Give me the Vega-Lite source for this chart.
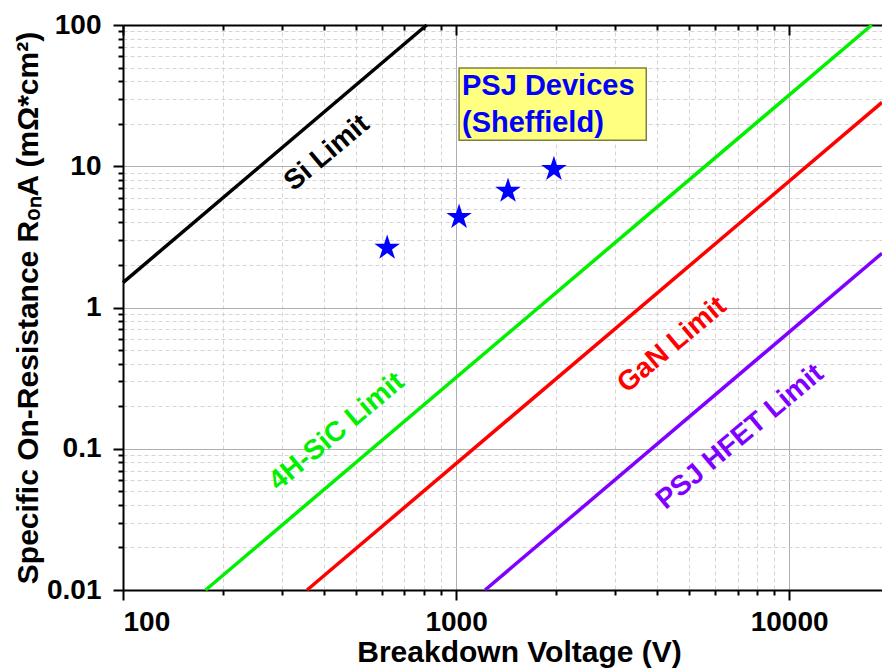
{
  "$schema": "https://vega.github.io/schema/vega-lite/v6.json",
  "width": 759,
  "height": 565,
  "autosize": "none",
  "padding": {"left": 123, "top": 25, "right": 0, "bottom": 81},
  "background": "white",
  "config": {
    "view": {"stroke": null},
    "axis": {
      "domainColor": "black",
      "domainWidth": 2,
      "tickColor": "black",
      "tickWidth": 2,
      "labelFont": "Liberation Sans",
      "labelFontWeight": "bold",
      "labelFontSize": 28,
      "labelColor": "black",
      "titleFont": "Liberation Sans",
      "titleFontWeight": "bold",
      "titleFontSize": 30,
      "titleColor": "black"
    }
  },
  "datasets": {
    "lineData": [
      {"series": "Si", "v": 100, "r": 1.5},
      {"series": "Si", "v": 816, "r": 100},
      {"series": "4H-SiC", "v": 177, "r": 0.01},
      {"series": "4H-SiC", "v": 17700, "r": 100},
      {"series": "GaN", "v": 357, "r": 0.01},
      {"series": "GaN", "v": 19000, "r": 28.3},
      {"series": "PSJ HFET", "v": 1222, "r": 0.01},
      {"series": "PSJ HFET", "v": 19000, "r": 2.42}
    ],
    "deviceData": [
      {"v": 621, "r": 2.64},
      {"v": 1021, "r": 4.37},
      {"v": 1432, "r": 6.68},
      {"v": 1967, "r": 9.55}
    ],
    "boxData": [
      {"v1": 1021, "v2": 3724, "r1": 15.3, "r2": 49.6}
    ],
    "boxTextData": [
      {"v": 1042, "r": 31.9, "label": "PSJ Devices"},
      {"v": 1042, "r": 17.5, "label": "(Sheffield)"}
    ],
    "labelData": [
      {"series": "Si", "v": 410, "r": 12.4, "label": "Si Limit"},
      {"series": "4H-SiC", "v": 439, "r": 0.1315, "label": "4H-SiC Limit"},
      {"series": "GaN", "v": 4454, "r": 0.5425, "label": "GaN Limit"},
      {"series": "PSJ HFET", "v": 7130, "r": 0.121, "label": "PSJ HFET Limit"}
    ]
  },
  "resolve": {"axis": {"x": "independent"}},
  "layer": [
    {
      "data": {"name": "lineData"},
      "mark": {"type": "line", "strokeWidth": 3.5},
      "encoding": {
        "x": {
          "field": "v", "type": "quantitative",
          "scale": {"type": "log", "domain": [100, 19000], "nice": false},
          "axis": {
            "orient": "bottom",
            "values": [100, 200, 300, 400, 500, 600, 700, 800, 900, 1000, 2000, 3000, 4000, 5000, 6000, 7000, 8000, 9000, 10000],
            "labelExpr": "abs(log(datum.value)/LN10 - round(log(datum.value)/LN10)) < 0.001 ? datum.label : ''",
            "format": "~g",
            "grid": true,
            "gridColor": {"condition": {"test": "abs(log(datum.value)/LN10 - round(log(datum.value)/LN10)) < 0.001", "value": "#b0b0b0"}, "value": "#d4d4d4"},
            "gridDash": {"condition": {"test": "abs(log(datum.value)/LN10 - round(log(datum.value)/LN10)) < 0.001", "value": []}, "value": [4, 3]},
            "gridWidth": 1,
            "tickSize": {"condition": {"test": "abs(log(datum.value)/LN10 - round(log(datum.value)/LN10)) < 0.001", "value": 10}, "value": 5},
            "labelPadding": 8,
            "title": "Breakdown Voltage (V)", "titlePadding": 1, "titleX": 396
          }
        },
        "y": {
          "field": "r", "type": "quantitative",
          "scale": {"type": "log", "domain": [0.01, 100], "nice": false},
          "axis": {
            "orient": "left",
            "values": [0.01, 0.02, 0.03, 0.04, 0.05, 0.06, 0.07, 0.08, 0.09, 0.1, 0.2, 0.3, 0.4, 0.5, 0.6, 0.7, 0.8, 0.9, 1, 2, 3, 4, 5, 6, 7, 8, 9, 10, 20, 30, 40, 50, 60, 70, 80, 90, 100],
            "labelExpr": "abs(log(datum.value)/LN10 - round(log(datum.value)/LN10)) < 0.001 ? datum.label : ''",
            "format": "~g",
            "grid": true,
            "gridColor": {"condition": {"test": "abs(log(datum.value)/LN10 - round(log(datum.value)/LN10)) < 0.001", "value": "#b0b0b0"}, "value": "#d4d4d4"},
            "gridDash": {"condition": {"test": "abs(log(datum.value)/LN10 - round(log(datum.value)/LN10)) < 0.001", "value": []}, "value": [4, 3]},
            "gridWidth": 1,
            "tickSize": {"condition": {"test": "abs(log(datum.value)/LN10 - round(log(datum.value)/LN10)) < 0.001", "value": 10}, "value": 5},
            "labelPadding": 12,
            "title": "Specific On-Resistance RₒₙA (mΩ*cm²)", "titlePadding": 3
          }
        },
        "color": {
          "field": "series", "type": "nominal",
          "scale": {"domain": ["Si", "4H-SiC", "GaN", "PSJ HFET"], "range": ["#000000", "#00f000", "#ff0000", "#8000ff"]},
          "legend": null
        }
      }
    },
    {
      "data": {"name": "boxData"},
      "mark": {"type": "rect", "fill": "#ffff80", "stroke": "#7f7f40", "strokeWidth": 1.5},
      "encoding": {
        "x": {
          "field": "v1", "type": "quantitative",
          "axis": {
            "orient": "top",
            "values": [100, 200, 300, 400, 500, 600, 700, 800, 900, 1000, 2000, 3000, 4000, 5000, 6000, 7000, 8000, 9000, 10000],
            "labels": false, "title": null, "grid": false,
            "tickSize": {"condition": {"test": "abs(log(datum.value)/LN10 - round(log(datum.value)/LN10)) < 0.001", "value": -10}, "value": -5}
          }
        },
        "x2": {"field": "v2"},
        "y": {"field": "r1", "type": "quantitative"},
        "y2": {"field": "r2"}
      }
    },
    {
      "data": {"name": "deviceData"},
      "mark": {"type": "point", "shape": "M0,-1L0.2245,-0.309L0.951,-0.309L0.363,0.118L0.588,0.809L0,0.382L-0.588,0.809L-0.363,0.118L-0.951,-0.309L-0.2245,-0.309Z", "filled": true, "size": 720, "color": "#0000ff", "opacity": 1},
      "encoding": {
        "x": {"field": "v", "type": "quantitative", "axis": null},
        "y": {"field": "r", "type": "quantitative"}
      }
    },
    {
      "data": {"name": "boxTextData"},
      "mark": {"type": "text", "align": "left", "baseline": "alphabetic", "fontSize": 29, "fontWeight": "bold", "color": "#0000ff", "font": "Liberation Sans"},
      "encoding": {
        "x": {"field": "v", "type": "quantitative", "axis": null},
        "y": {"field": "r", "type": "quantitative"},
        "text": {"field": "label"}
      }
    },
    {
      "data": {"name": "labelData"},
      "mark": {"type": "text", "align": "center", "baseline": "middle", "angle": -40, "fontSize": 28, "fontWeight": "bold", "font": "Liberation Sans"},
      "encoding": {
        "x": {"field": "v", "type": "quantitative", "axis": null},
        "y": {"field": "r", "type": "quantitative"},
        "text": {"field": "label"},
        "color": {"field": "series", "type": "nominal", "legend": null}
      }
    }
  ]
}
